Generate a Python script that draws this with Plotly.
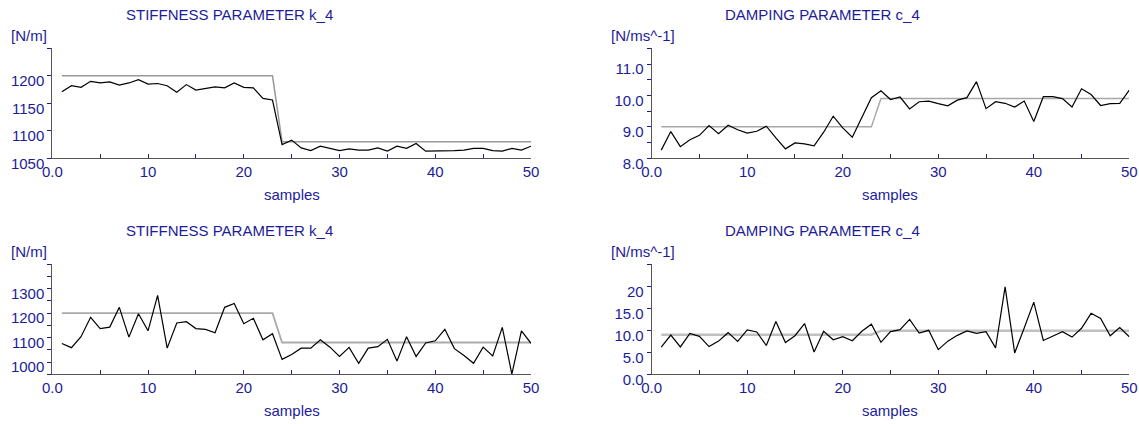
import plotly.graph_objects as go

samples = list(range(1, 51))

# Top-left: stiffness estimate (black) and reference (grey)
k4_top = [1171, 1182, 1179, 1190, 1187, 1189, 1183, 1187, 1193, 1185,
          1186, 1182, 1170, 1184, 1174, 1177, 1180, 1178, 1187, 1179,
          1178, 1159, 1156, 1075, 1083, 1069, 1064, 1072, 1068, 1064,
          1067, 1065, 1065, 1069, 1063, 1072, 1068, 1077, 1063, 1063,
          1064, 1064, 1065, 1068, 1068, 1064, 1063, 1068, 1065, 1072]
k4_ref = [1200] * 23 + [1080] * 27

# Top-right: damping estimate and reference
c4_top = [8.26, 8.85, 8.37, 8.59, 8.73, 9.04, 8.78, 9.05, 8.91, 8.80,
          8.86, 9.02, 8.65, 8.30, 8.49, 8.46, 8.40, 8.83, 9.34, 8.97,
          8.67, 9.28, 9.93, 10.15, 9.87, 9.95, 9.57, 9.80, 9.82, 9.74,
          9.67, 9.85, 9.93, 10.44, 9.58, 9.80, 9.75, 9.63, 9.82, 9.17,
          9.96, 9.96, 9.90, 9.63, 10.21, 10.03, 9.68, 9.74, 9.75, 10.17]
c4_ref = [9.0] * 23 + [9.9] * 27

# Bottom-left: noisy stiffness estimate
k4_bot = [1076, 1059, 1104, 1183, 1137, 1143, 1224, 1102, 1198, 1128,
          1273, 1057, 1160, 1165, 1137, 1134, 1120, 1224, 1240, 1157,
          1179, 1091, 1116, 1011, 1031, 1057, 1057, 1091, 1061, 1023,
          1060, 995, 1057, 1063, 1093, 1004, 1104, 1023, 1078, 1087,
          1134, 1055, 1027, 995, 1061, 1025, 1142, 951, 1128, 1077]

# Bottom-right: noisy damping estimate
c4_bot = [6.15, 8.92, 6.23, 9.31, 8.62, 6.31, 7.54, 9.46, 7.46, 10.08,
          9.62, 6.54, 12.0, 7.23, 8.77, 11.54, 5.08, 9.77, 7.85, 8.54,
          7.62, 9.77, 11.38, 7.27, 9.70, 10.16, 12.47, 9.38, 10.0, 5.61,
          7.53, 8.85, 9.84, 9.31, 9.70, 6.0, 19.86, 4.85, 10.53, 16.4,
          7.69, 8.68, 9.70, 8.45, 10.46, 13.86, 12.7, 8.77, 10.62, 8.54]

x_tickvals = [0, 5, 10, 15, 20, 25, 30, 35, 40, 45, 50]
x_ticktext = ["0.0", "", "10", "", "20", "", "30", "", "40", "", "50"]

yk_top_vals = [1050, 1100, 1150, 1200, 1250]
yk_top_text = ["1050", "1100", "1150", "1200", ""]
yc_top_vals = [8.0, 8.5, 9.0, 9.5, 10.0, 10.5, 11.0, 11.5]
yc_top_text = ["8.0", "", "9.0", "", "10.0", "", "11.0", ""]
yk_bot_vals = [950, 1000, 1050, 1100, 1150, 1200, 1250, 1300, 1350, 1400]
yk_bot_text = ["", "1000", "", "1100", "", "1200", "", "1300", "", ""]
yc_bot_vals = [0, 5, 10, 15, 20, 25]
yc_bot_text = ["0.0", "5.0", "10.0", "15.0", "20", ""]

titles = ["STIFFNESS PARAMETER k_4", "DAMPING PARAMETER c_4",
          "STIFFNESS PARAMETER k_4", "DAMPING PARAMETER c_4"]
units = ["[N/m]", "[N/ms^-1]", "[N/m]", "[N/ms^-1]"]

W, H = 1139, 424
NAVY = "#1c1c98"
AXC = "#555555"
FONT = "Liberation Sans, Arial, sans-serif"

# panel geometry in pixels: (x_left, x_right, y_top, y_bottom)
panels = [(52.3, 531.0, 48.3, 158.3), (651.7, 1129.3, 48.3, 158.3),
          (52.3, 531.0, 264.3, 374.3), (651.7, 1129.3, 264.3, 374.3)]
title_left = [124, 723, 124, 723]

fig = go.Figure()
series = [(k4_top, k4_ref, "#999999", 1.5), (c4_top, c4_ref, "#a8a8a8", 1.5),
          (k4_bot, k4_ref, "#aaaaaa", 1.8), (c4_bot, c4_ref, "#c0c0c0", 2.5)]
yranges = [(1050, 1250), (8.0, 11.5), (950, 1400), (0, 25)]
yticks = [(yk_top_vals, yk_top_text), (yc_top_vals, yc_top_text),
          (yk_bot_vals, yk_bot_text), (yc_bot_vals, yc_bot_text)]

layout = dict(width=W, height=H, margin=dict(l=0, r=0, t=0, b=0, autoexpand=False),
              paper_bgcolor="white", plot_bgcolor="white", showlegend=False,
              font=dict(family=FONT, size=15, color=NAVY))
annotations = []
for i, ((est, ref, rc, rw), (x0, x1, y0, y1)) in enumerate(zip(series, panels)):
    n = "" if i == 0 else str(i + 1)
    fig.add_trace(go.Scatter(x=samples, y=ref, mode="lines",
                             line=dict(color=rc, width=rw),
                             xaxis="x" + n, yaxis="y" + n, hoverinfo="skip"))
    fig.add_trace(go.Scatter(x=samples, y=est, mode="lines",
                             line=dict(color="black", width=1.2),
                             xaxis="x" + n, yaxis="y" + n))
    layout["xaxis" + n] = dict(
        domain=[x0 / W, x1 / W], anchor="y" + n, range=[0, 50],
        tickmode="array", tickvals=x_tickvals, ticktext=x_ticktext,
        ticks="inside", ticklen=4, tickcolor=NAVY, tickwidth=1,
        showline=True, linecolor=AXC, linewidth=1, showgrid=False,
        zeroline=False, automargin=False,
        tickfont=dict(size=15, color=NAVY, family=FONT))
    yv, yt = yticks[i]
    layout["yaxis" + n] = dict(
        domain=[1 - y1 / H, 1 - y0 / H], anchor="x" + n, range=list(yranges[i]),
        tickmode="array", tickvals=yv, ticktext=yt,
        ticks="outside", ticklen=4, tickcolor=NAVY, tickwidth=1,
        showline=True, linecolor=AXC, linewidth=1, showgrid=False,
        zeroline=False, ticklabelshift=5, automargin=False,
        tickfont=dict(size=15, color=NAVY, family=FONT))
    # title
    annotations.append(dict(text=titles[i], x=title_left[i] / W, y=1 - (y0 - 33.5) / H,
                            xref="paper", yref="paper", xanchor="left",
                            yanchor="middle", showarrow=False,
                            font=dict(size=15, color=NAVY, family=FONT)))
    # units
    annotations.append(dict(text=units[i], x=(x0 - 43) / W, y=1 - (y0 - 13) / H,
                            xref="paper", yref="paper", xanchor="left",
                            yanchor="middle", showarrow=False,
                            font=dict(size=15, color=NAVY, family=FONT)))
    # x axis title
    annotations.append(dict(text="samples", x=(x0 + x1) / 2 / W, y=1 - (y1 + 36.5) / H,
                            xref="paper", yref="paper", xanchor="center",
                            yanchor="middle", showarrow=False,
                            font=dict(size=15, color=NAVY, family=FONT)))
layout["annotations"] = annotations
fig.update_layout(**layout)
fig.write_html("out.html", config={"displayModeBar": False},
               post_script="document.body.style.margin='0';document.body.style.overflow='hidden';")
